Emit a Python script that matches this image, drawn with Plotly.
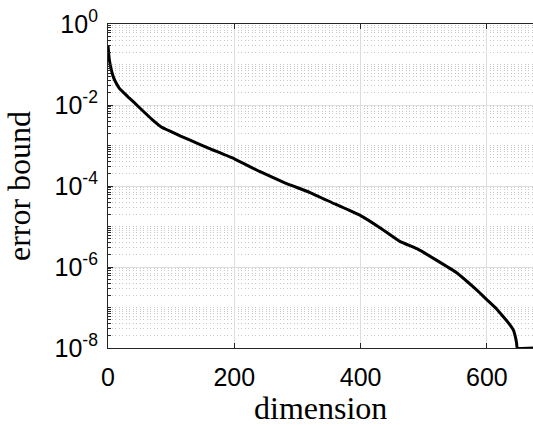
import plotly.graph_objects as go

# data
dimension = [0, 2, 5, 9, 14, 18, 25, 32, 40, 55, 70, 85, 100, 115, 130, 160, 200, 240,
             280, 320, 360, 400, 430, 462, 490, 520, 550, 570, 585, 600, 615, 626,
             635, 642, 645, 647, 648, 673]
error_bound = [0.302, 0.135, 0.0760, 0.0468, 0.0324, 0.0257, 0.0200, 0.0157, 0.0121,
               7.2e-3, 4.37e-3, 2.82e-3, 2.19e-3, 1.70e-3, 1.35e-3, 8.5e-4, 4.7e-4,
               2.29e-4, 1.20e-4, 6.9e-5, 3.55e-5, 1.86e-5, 9.5e-6, 4.3e-6, 2.8e-6,
               1.48e-6, 7.6e-7, 4.2e-7, 2.6e-7, 1.55e-7, 9.3e-8, 5.9e-8, 4.0e-8,
               2.75e-8, 1.9e-8, 1.32e-8, 1e-8, 1e-8]

x_ticks = [0, 200, 400, 600]
y_ticks = [1e-8, 1e-6, 1e-4, 1e-2, 1]
y_ticktext = ["10<sup>-8</sup>", "10<sup>-6</sup>", "10<sup>-4</sup>", "10<sup>-2</sup>", "10<sup>0</sup>"]
x_title = "dimension"
y_title = "error bound"

# minor ticks: every 1..9 x 10^k not already a major tick
y_minor = []
for k in range(-8, 0):
    for m in range(1, 10):
        v = m * 10.0 ** k
        if not (m == 1 and k % 2 == 0):
            y_minor.append(v)

axis_color = "#262626"
tick_font = dict(family="Liberation Sans, Arial, sans-serif", size=25, color="black")
title_font = dict(family="Liberation Serif, Times New Roman, serif", size=32, color="black")

fig = go.Figure()
fig.add_trace(go.Scatter(x=dimension, y=error_bound, mode="lines",
                         line=dict(color="black", width=3, shape="spline", smoothing=0.3),
                         showlegend=False))

fig.update_layout(
    width=533, height=425,
    margin=dict(l=108, r=0, t=24, b=77),
    paper_bgcolor="white", plot_bgcolor="white",
    xaxis=dict(
        range=[0, 673], tickvals=x_ticks, ticks="inside", ticklen=5,
        tickcolor=axis_color, showline=True, linecolor=axis_color, linewidth=1.2,
        mirror="ticks", showgrid=True, gridcolor="#dedede", gridwidth=1,
        zeroline=False, tickfont=tick_font, ticklabelstandoff=7,
    ),
    yaxis=dict(
        type="log", range=[-8, 0], tickvals=y_ticks, ticktext=y_ticktext,
        ticks="inside", ticklen=5, tickcolor=axis_color,
        showline=True, linecolor=axis_color, linewidth=1.2, mirror=False,
        showgrid=True, gridcolor="#dedede", gridwidth=1, zeroline=False,
        tickfont=tick_font, ticklabelstandoff=4,
        minor=dict(tickmode="array", tickvals=y_minor, ticks="inside", ticklen=3,
                   tickcolor=axis_color, showgrid=True, gridcolor="#c8c8c8",
                   griddash="1px,2.5px", gridwidth=1),
        title=dict(text=y_title, font=title_font, standoff=14),
    ),
    annotations=[dict(text=x_title, font=title_font, xref="paper", yref="paper",
                      x=0.5, y=0, xanchor="center", yanchor="bottom", yshift=-76,
                      height=30, valign="middle", borderpad=0, showarrow=False)],
)

fig.write_html("out.html")
